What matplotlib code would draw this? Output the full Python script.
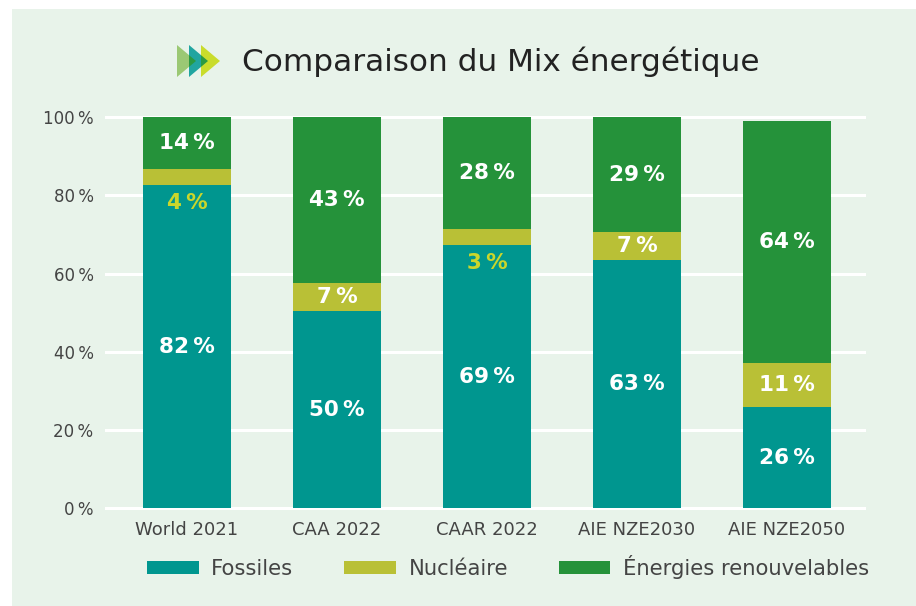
import matplotlib
matplotlib.use("Agg")
import matplotlib.pyplot as plt
from matplotlib.patches import Polygon, Rectangle, Patch

# Data (drawn segment heights, % of total)
categories = ['World 2021', 'CAA 2022', 'CAAR 2022', 'AIE NZE2030', 'AIE NZE2050']
fossiles = [82.6, 50.4, 67.2, 63.4, 25.9]
nucleaire = [4.0, 7.1, 4.1, 7.2, 11.2]
renouvelables = [13.4, 42.5, 28.7, 29.4, 61.8]

# Printed labels
fossiles_lbl = [82, 50, 69, 63, 26]
nucleaire_lbl = [4, 7, 3, 7, 11]
renouvelables_lbl = [14, 43, 28, 29, 64]

series_names = ['Fossiles', 'Nucléaire', 'Énergies renouvelables']
yticks = [0, 20, 40, 60, 80, 100]

BG = '#e8f3ea'
C_FOS = '#00968f'
C_NUC = '#b9c036'
C_REN = '#25923a'
C_YEL = '#cad62c'
TXT = '#444444'
PCT = '\u2009%'

W, H = 916, 606
fig = plt.figure(figsize=(W / 100, H / 100), dpi=100)
fig.patch.set_facecolor('white')

def fx(px):
    return px / W

def fy(py):
    return 1 - py / H

# light green panel
fig.add_artist(Rectangle((fx(12), 0), 1 - fx(12), fy(9), transform=fig.transFigure,
                         facecolor=BG, edgecolor='none', zorder=0))

ax = fig.add_axes([fx(106), fy(508.3), fx(864) - fx(106), fy(117) - fy(508.3)])
ax.set_facecolor('none')

x = list(range(len(categories)))
bw = 0.587
bottom_nuc = fossiles
bottom_ren = [f + n for f, n in zip(fossiles, nucleaire)]

ax.bar(x, fossiles, bw, color=C_FOS, zorder=3)
ax.bar(x, nucleaire, bw, bottom=bottom_nuc, color=C_NUC, zorder=3)
ax.bar(x, renouvelables, bw, bottom=bottom_ren, color=C_REN, zorder=3)

lblkw = dict(ha='center', va='center', fontsize=15.5, fontweight='bold', zorder=5)
for i in x:
    ax.text(i, fossiles[i] / 2, f'{fossiles_lbl[i]}{PCT}', color='white', **lblkw)
    if nucleaire[i] < 5:
        ax.text(i, fossiles[i] - 4.5, f'{nucleaire_lbl[i]}{PCT}', color=C_YEL, **lblkw)
    else:
        ax.text(i, fossiles[i] + nucleaire[i] / 2, f'{nucleaire_lbl[i]}{PCT}', color='white', **lblkw)
    ax.text(i, bottom_ren[i] + renouvelables[i] / 2, f'{renouvelables_lbl[i]}{PCT}', color='white', **lblkw)

ax.set_xlim(-0.54, 4.513)
ax.set_ylim(0, 100)
ax.set_xticks(x)
ax.set_xticklabels(categories, fontsize=13, color=TXT)
ax.set_yticks(yticks)
ax.set_yticklabels([f'{v}{PCT}' for v in yticks], fontsize=12, color=TXT)
ax.tick_params(axis='both', length=0)
ax.tick_params(axis='y', pad=9)
ax.tick_params(axis='x', pad=9)
for s in ax.spines.values():
    s.set_visible(False)
ax.set_axisbelow(True)
ax.yaxis.grid(True, color='white', linewidth=2.2)
for gl in ax.get_ygridlines():
    gl.set_clip_on(False)

# title icon: three overlapping chevron triangles
top, bot, mid, tw = 45, 77, 61, 19
starts = [177, 189, 201]
colors = ['#9bc874', '#21a5a0', '#c9dc2c']
for x0, c in zip(starts, colors):
    fig.add_artist(Polygon([(fx(x0), fy(top)), (fx(x0), fy(bot)), (fx(x0 + tw), fy(mid))],
                           closed=True, transform=fig.transFigure, facecolor=c,
                           edgecolor='none', zorder=2))
hh = (bot - top) / 2
for a, b in zip(starts[:-1], starts[1:]):
    r = hh * (1 - (b - a) / tw)
    fig.add_artist(Polygon([(fx(b), fy(mid - r)), (fx(b), fy(mid + r)), (fx(a + tw), fy(mid))],
                           closed=True, transform=fig.transFigure, facecolor='#2a9a42',
                           edgecolor='none', zorder=3))

fig.text(fx(242), fy(62), 'Comparaison du Mix énergétique', ha='left', va='center',
         fontsize=22.4, color='#222222')

handles = [Patch(facecolor=c, edgecolor='none') for c in (C_FOS, C_NUC, C_REN)]
fig.legend(handles, series_names, loc='center', bbox_to_anchor=(fx(508), fy(567)),
           ncol=3, frameon=False, fontsize=15.2, labelcolor=TXT,
           handlelength=2.45, handleheight=0.62, handletextpad=0.6, columnspacing=2.4)

fig.savefig('out.png', dpi=100, facecolor=fig.get_facecolor())
